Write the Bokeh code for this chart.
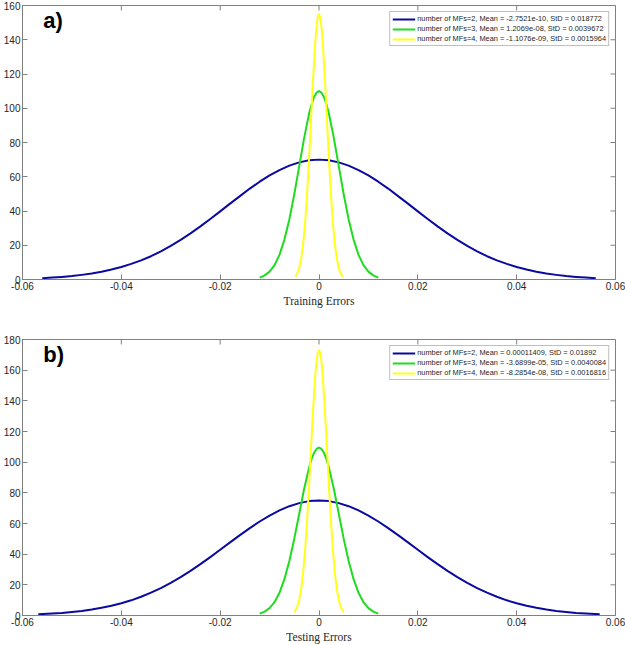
from bokeh.plotting import figure
from bokeh.models import (Range1d, FixedTicker, NumeralTickFormatter,
                          Legend, LegendItem, Label)
from bokeh.layouts import column
from bokeh.embed import file_html
from bokeh.resources import INLINE

# ---------------- data ----------------
x_ticks = [-0.06, -0.04, -0.02, 0.0, 0.02, 0.04, 0.06]
y_ticks_a = [0, 20, 40, 60, 80, 100, 120, 140, 160]
y_ticks_b = [0, 20, 40, 60, 80, 100, 120, 140, 160, 180]

# panel a) Training errors
a_blue_x = [-0.056, -0.054, -0.052, -0.050, -0.048, -0.046, -0.044, -0.042, -0.040, -0.038,
            -0.036, -0.034, -0.032, -0.030, -0.028, -0.026, -0.024, -0.022, -0.020, -0.018,
            -0.016, -0.014, -0.012, -0.010, -0.008, -0.006, -0.004, -0.002, 0.0,
            0.002, 0.004, 0.006, 0.008, 0.010, 0.012, 0.014, 0.016, 0.018, 0.020,
            0.022, 0.024, 0.026, 0.028, 0.030, 0.032, 0.034, 0.036, 0.038, 0.040,
            0.042, 0.044, 0.046, 0.048, 0.050, 0.052, 0.054, 0.056]
a_blue_y = [0.8, 1.1, 1.5, 2.0, 2.7, 3.5, 4.5, 5.8, 7.3, 9.1,
            11.2, 13.6, 16.4, 19.6, 23.1, 26.9, 31.0, 35.3, 39.8, 44.3,
            48.7, 53.1, 57.1, 60.8, 63.9, 66.5, 68.4, 69.6, 70.0,
            69.6, 68.4, 66.5, 63.9, 60.8, 57.1, 53.1, 48.7, 44.3, 39.8,
            35.3, 31.0, 26.9, 23.1, 19.6, 16.4, 13.6, 11.2, 9.1, 7.3,
            5.8, 4.5, 3.5, 2.7, 2.0, 1.5, 1.1, 0.8]
a_green_x = [-0.012, -0.011, -0.010, -0.009, -0.008, -0.007, -0.006, -0.005, -0.004, -0.003,
             -0.002, -0.0015, -0.001, -0.0005, 0.0, 0.0005, 0.001, 0.0015, 0.002, 0.003,
             0.004, 0.005, 0.006, 0.007, 0.008, 0.009, 0.010, 0.011, 0.012]
a_green_y = [1.1, 2.4, 4.6, 8.4, 14.4, 23.3, 35.1, 49.8, 66.2, 82.7,
             96.9, 102.4, 106.6, 109.1, 110.0, 109.1, 106.6, 102.4, 96.9, 82.7,
             66.2, 49.8, 35.1, 23.3, 14.4, 8.4, 4.6, 2.4, 1.1]
a_yellow_x = [-0.0048, -0.0044, -0.0040, -0.0036, -0.0032, -0.0028, -0.0024, -0.0020, -0.0016,
              -0.0012, -0.0008, -0.0006, -0.0004, -0.0002, 0.0, 0.0002, 0.0004, 0.0006,
              0.0008, 0.0012, 0.0016, 0.0020, 0.0024, 0.0028, 0.0032, 0.0036, 0.0040,
              0.0044, 0.0048]
a_yellow_y = [1.7, 3.5, 6.8, 12.3, 21.0, 33.5, 50.3, 71.0, 94.0,
              117.0, 136.8, 144.5, 150.2, 153.8, 155.0, 153.8, 150.2, 144.5,
              136.8, 117.0, 94.0, 71.0, 50.3, 33.5, 21.0, 12.3, 6.8,
              3.5, 1.7]
a_labels = ["number of MFs=2, Mean = -2.7521e-10, StD = 0.018772",
            "number of MFs=3, Mean = 1.2069e-08, StD = 0.0039672",
            "number of MFs=4, Mean = -1.1076e-09, StD = 0.0015964"]

# panel b) Testing errors
b_blue_x = [-0.0568, -0.054, -0.052, -0.050, -0.048, -0.046, -0.044, -0.042, -0.040, -0.038,
            -0.036, -0.034, -0.032, -0.030, -0.028, -0.026, -0.024, -0.022, -0.020, -0.018,
            -0.016, -0.014, -0.012, -0.010, -0.008, -0.006, -0.004, -0.002, 0.0,
            0.002, 0.004, 0.006, 0.008, 0.010, 0.012, 0.014, 0.016, 0.018, 0.020,
            0.022, 0.024, 0.026, 0.028, 0.030, 0.032, 0.034, 0.036, 0.038, 0.040,
            0.042, 0.044, 0.046, 0.048, 0.050, 0.052, 0.054, 0.0568]
b_blue_y = [0.8, 1.3, 1.7, 2.3, 3.0, 3.9, 5.0, 6.3, 8.0, 9.9,
            12.2, 14.9, 17.9, 21.3, 25.0, 29.1, 33.5, 38.1, 42.9, 47.7,
            52.4, 57.0, 61.3, 65.2, 68.6, 71.3, 73.3, 74.6, 75.0,
            74.6, 73.3, 71.3, 68.6, 65.2, 61.3, 57.0, 52.4, 47.7, 42.9,
            38.1, 33.5, 29.1, 25.0, 21.3, 17.9, 14.9, 12.2, 9.9, 8.0,
            6.3, 5.0, 3.9, 3.0, 2.3, 1.7, 1.3, 0.8]
b_green_x = [-0.012, -0.011, -0.010, -0.009, -0.008, -0.007, -0.006, -0.005, -0.004, -0.003,
             -0.002, -0.0015, -0.001, -0.0005, 0.0, 0.0005, 0.001, 0.0015, 0.002, 0.003,
             0.004, 0.005, 0.006, 0.007, 0.008, 0.009, 0.010, 0.011, 0.012]
b_green_y = [1.2, 2.5, 4.8, 8.7, 14.8, 23.7, 35.6, 50.1, 66.4, 82.7,
             96.6, 102.1, 106.1, 108.6, 109.5, 108.6, 106.1, 102.1, 96.6, 82.7,
             66.4, 50.1, 35.6, 23.7, 14.8, 8.7, 4.8, 2.5, 1.2]
b_yellow_x = [-0.0050, -0.0044, -0.0040, -0.0036, -0.0032, -0.0028, -0.0024, -0.0020, -0.0016,
              -0.0012, -0.0008, -0.0006, -0.0004, -0.0002, 0.0, 0.0002, 0.0004, 0.0006,
              0.0008, 0.0012, 0.0016, 0.0020, 0.0024, 0.0028, 0.0032, 0.0036, 0.0040,
              0.0044, 0.0050]
b_yellow_y = [2.1, 5.6, 10.2, 17.4, 28.2, 43.2, 62.4, 85.2, 109.9,
              134.0, 154.5, 162.3, 168.2, 171.8, 173.0, 171.8, 168.2, 162.3,
              154.5, 134.0, 109.9, 85.2, 62.4, 43.2, 28.2, 17.4, 10.2,
              5.6, 2.1]
b_labels = ["number of MFs=2, Mean = 0.00011409, StD = 0.01892",
            "number of MFs=3, Mean = -3.6899e-05, StD = 0.0040084",
            "number of MFs=4, Mean = -8.2854e-08, StD = 0.0016816"]

COLORS = ["#0a0aa0", "#1fdc1f", "#ffff1a"]
AX = "#808080"
TXT = "#262626"
X_MIN, X_MAX = -0.06, 0.06


def panel(series, labels, y_max, y_ticks, xlabel, tag, height, top_border):
    p = figure(width=625, height=height, output_backend="svg", toolbar_location=None,
               x_range=Range1d(X_MIN, X_MAX), y_range=Range1d(0, y_max),
               min_border_top=top_border, min_border_right=10,
               min_border_bottom=0, min_border_left=0)
    p.grid.visible = False
    p.outline_line_color = AX
    p.background_fill_color = "white"
    p.border_fill_color = "white"

    renderers = []
    for (xs, ys), c in zip(series, COLORS):
        r = p.line(xs, ys, line_color=c, line_width=2, line_join="round")
        renderers.append(r)

    xax = p.below[0]
    yax = p.left[0]
    xax.ticker = FixedTicker(ticks=x_ticks)
    yax.ticker = FixedTicker(ticks=y_ticks)
    xax.formatter = NumeralTickFormatter(format="0.[00]")
    for ax in (xax, yax):
        ax.axis_line_color = AX
        ax.major_tick_line_color = AX
        ax.major_tick_in = 5
        ax.major_tick_out = 0
        ax.minor_tick_line_color = None
        ax.major_label_text_font = "Liberation Sans"
        ax.major_label_text_color = TXT
        ax.major_label_text_font_size = "10px"
        ax.major_label_standoff = 2
    xax.axis_label = xlabel
    xax.axis_label_text_font = "Liberation Serif"
    xax.axis_label_text_font_style = "normal"
    xax.axis_label_text_font_size = "11.5px"
    xax.axis_label_text_color = TXT
    xax.axis_label_standoff = 2

    # inward ticks on the top and right edges of the box (MATLAB "box on")
    tl_y = y_max * 5.0 / 276.0
    tl_x = (X_MAX - X_MIN) * 5.0 / 596.0
    p.segment(x0=x_ticks, y0=[y_max] * len(x_ticks), x1=x_ticks,
              y1=[y_max - tl_y] * len(x_ticks), line_color=AX, line_width=1)
    p.segment(x0=[X_MAX] * len(y_ticks), y0=y_ticks, x1=[X_MAX - tl_x] * len(y_ticks),
              y1=y_ticks, line_color=AX, line_width=1)

    legend = Legend(items=[LegendItem(label=l, renderers=[r]) for l, r in zip(labels, renderers)],
                    location="top_right")
    legend.label_text_font = "Liberation Sans"
    legend.label_text_font_size = "7.4px"
    legend.label_text_color = TXT
    legend.label_height = 8
    legend.glyph_height = 8
    legend.glyph_width = 23
    legend.label_standoff = 2
    legend.spacing = 1
    legend.padding = 2
    legend.margin = 6
    legend.border_line_color = AX
    legend.border_line_width = 1
    p.add_layout(legend)

    p.add_layout(Label(x=-0.0558, y=y_max * 0.99, text=tag, text_font="Liberation Sans",
                       text_font_style="bold", text_font_size="22px", text_color="black",
                       text_baseline="top"))
    return p


pa = panel([(a_blue_x, a_blue_y), (a_green_x, a_green_y), (a_yellow_x, a_yellow_y)],
           a_labels, 160, y_ticks_a, "Training Errors", "a)", 309, 5)
pb = panel([(b_blue_x, b_blue_y), (b_green_x, b_green_y), (b_yellow_x, b_yellow_y)],
           b_labels, 180, y_ticks_b, "Testing Errors", "b)", 336, 30)

layout = column(pa, pb, spacing=0)
open("out.html", "w").write(file_html(layout, INLINE))
